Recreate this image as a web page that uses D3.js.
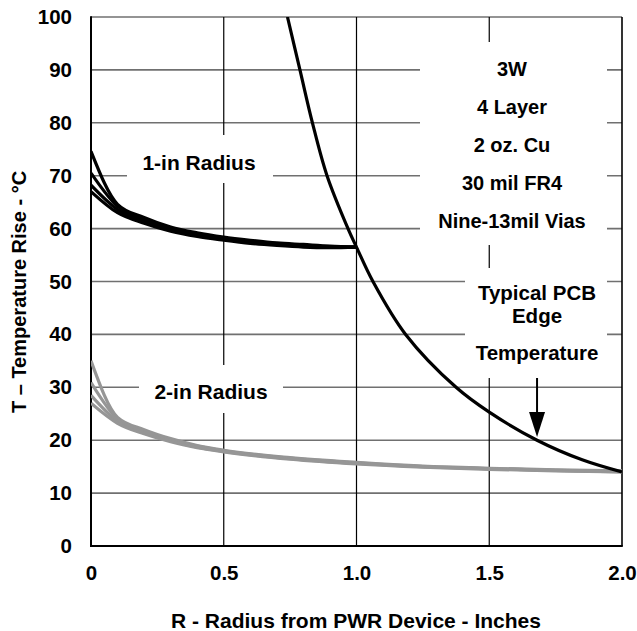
<!DOCTYPE html>
<html>
<head>
<meta charset="utf-8">
<script src="https://cdn.jsdelivr.net/npm/d3@7"></script>
<style>
html,body{margin:0;padding:0;background:#fff;}
svg{display:block;}
text{font-family:"Liberation Sans",Arial,sans-serif;font-weight:bold;fill:#000;}
</style>
</head>
<body>
<svg id="chart" width="637" height="631"></svg>
<script>
// ---- data ----
const xTicks = [0, 0.5, 1.0, 1.5, 2.0];
const xTickLabels = ["0", "0.5", "1.0", "1.5", "2.0"];
const yTicks = [0, 10, 20, 30, 40, 50, 60, 70, 80, 90, 100];
const yTickLabels = ["0", "10", "20", "30", "40", "50", "60", "70", "80", "90", "100"];

// 1-in radius curves (black)
const r1X = [0, 0.1, 0.2, 0.3, 0.4, 0.5, 0.6, 0.7, 0.8, 0.9, 1.0];
const r1A = [74.6, 64.6, 62.1, 60.3, 59.2, 58.4, 57.8, 57.3, 57.0, 56.7, 56.5];
const r1B = [70.5, 64.2, 61.8, 60.0, 59.0, 58.2, 57.6, 57.1, 56.8, 56.6, 56.5];
const r1C = [68.2, 63.6, 61.4, 59.8, 58.8, 58.0, 57.4, 57.0, 56.7, 56.5, 56.5];
const r1D = [67.0, 63.0, 61.0, 59.5, 58.5, 57.8, 57.2, 56.8, 56.5, 56.4, 56.5];

// 2-in radius curves (gray)
const r2X = [0, 0.1, 0.2, 0.3, 0.4, 0.5, 0.75, 1.0, 1.25, 1.5, 1.75, 2.0];
const r2A = [35.0, 24.3, 22.0, 20.3, 19.0, 18.1, 16.7, 15.8, 15.1, 14.7, 14.4, 14.2];
const r2B = [30.9, 24.0, 21.8, 20.1, 18.9, 18.0, 16.6, 15.7, 15.0, 14.6, 14.3, 14.1];
const r2C = [28.5, 23.6, 21.5, 19.9, 18.7, 17.9, 16.5, 15.6, 15.0, 14.6, 14.3, 14.0];
const r2D = [27.0, 23.2, 21.2, 19.7, 18.6, 17.8, 16.4, 15.5, 14.9, 14.5, 14.2, 14.0];

// Typical PCB edge temperature curve
const edgeX = [0.74, 0.787, 0.834, 0.889, 0.968, 1.0, 1.062, 1.185, 1.375, 1.5, 1.68, 1.85, 2.0];
const edgeT = [100, 90, 80, 70, 60, 56.5, 50, 40, 30, 25.3, 20, 16.3, 14];

const infoLines = ["3W", "4 Layer", "2 oz. Cu", "30 mil FR4", "Nine-13mil Vias"];
const edgeLines = ["Typical PCB", "Edge", "Temperature"];
const arrowX = 1.68;

// ---- drawing ----
const svg = d3.select("#chart");
const x = d3.scaleLinear().domain([0, 2]).range([91, 622]);
const y = d3.scaleLinear().domain([0, 100]).range([546, 17]);

// grid
const g = svg.append("g");
g.selectAll("line.h").data(yTicks.filter(d => d > 0)).enter().append("line")
  .attr("x1", x(0)).attr("x2", x(2)).attr("y1", d => y(d)).attr("y2", d => y(d))
  .attr("stroke", "#707070").attr("stroke-width", 1.6);
g.selectAll("line.v").data(xTicks.filter(d => d > 0 && d < 2)).enter().append("line")
  .attr("x1", d => x(d)).attr("x2", d => x(d)).attr("y1", y(0)).attr("y2", y(100))
  .attr("stroke", "#000").attr("stroke-width", 1.2);

// white label boxes (they interrupt the grid)
const boxes = [
  [127, 135, 146, 48],
  [139, 365, 144, 48],
  [420, 42, 187, 203],
  [465, 268, 142, 110]
];
svg.append("g").selectAll("rect").data(boxes).enter().append("rect")
  .attr("x", d => d[0]).attr("y", d => d[1]).attr("width", d => d[2]).attr("height", d => d[3])
  .attr("fill", "#fff");

// frame
svg.append("line").attr("x1", x(2)).attr("x2", x(2)).attr("y1", y(0)).attr("y2", y(100))
  .attr("stroke", "#000").attr("stroke-width", 1.6);
svg.append("line").attr("x1", x(0)).attr("x2", x(0)).attr("y1", y(0) + 1).attr("y2", y(100) - 0.8)
  .attr("stroke", "#000").attr("stroke-width", 2);
svg.append("line").attr("x1", x(0) - 1).attr("x2", x(2) + 0.8).attr("y1", y(0)).attr("y2", y(0))
  .attr("stroke", "#000").attr("stroke-width", 2);

// axes (labels only)
const ax = svg.append("g").attr("transform", `translate(0,${y(0)})`)
  .call(d3.axisBottom(x).tickValues(xTicks).tickSize(0).tickPadding(19)
    .tickFormat((d, i) => xTickLabels[i]));
ax.select(".domain").remove();
ax.selectAll("text").attr("font-size", 20.5).attr("font-family", "Liberation Sans, Arial, sans-serif").attr("font-weight", "bold").attr("fill", "#000");

const ay = svg.append("g").attr("transform", `translate(${x(0)},0)`)
  .call(d3.axisLeft(y).tickValues(yTicks).tickSize(0).tickPadding(19)
    .tickFormat((d, i) => yTickLabels[i]));
ay.select(".domain").remove();
ay.selectAll("text").attr("font-size", 20.5).attr("font-family", "Liberation Sans, Arial, sans-serif").attr("font-weight", "bold").attr("fill", "#000");

// clip for curves
svg.append("clipPath").attr("id", "clip").append("rect")
  .attr("x", x(0)).attr("y", y(100)).attr("width", x(2) - x(0)).attr("height", y(0) - y(100));

const line = d3.line().x(d => x(d[0])).y(d => y(d[1])).curve(d3.curveMonotoneX);
const smooth = d3.line().x(d => x(d[0])).y(d => y(d[1])).curve(d3.curveCatmullRom.alpha(0.5));
const curves = svg.append("g").attr("clip-path", "url(#clip)");

[r2A, r2B, r2C, r2D].forEach(s => {
  curves.append("path").datum(r2X.map((v, i) => [v, s[i]]))
    .attr("d", line).attr("fill", "none").attr("stroke", "#969696").attr("stroke-width", 3.2)
    .attr("stroke-linejoin", "round");
});
[r1A, r1B, r1C, r1D].forEach(s => {
  curves.append("path").datum(r1X.map((v, i) => [v, s[i]]))
    .attr("d", line).attr("fill", "none").attr("stroke", "#000").attr("stroke-width", 3.2)
    .attr("stroke-linejoin", "round");
});
curves.append("path").datum(edgeX.map((v, i) => [v, edgeT[i]]))
  .attr("d", smooth).attr("fill", "none").attr("stroke", "#000").attr("stroke-width", 3.2);

// arrow
const ax0 = x(arrowX);
svg.append("line").attr("x1", ax0).attr("x2", ax0).attr("y1", 378).attr("y2", 414)
  .attr("stroke", "#000").attr("stroke-width", 2);
svg.append("path").attr("d", `M${ax0 - 8},412 L${ax0 + 8},412 L${ax0},437 Z`).attr("fill", "#000");

// annotation texts
function label(txt, cx, cy, size) {
  svg.append("text").attr("x", cx).attr("y", cy).attr("text-anchor", "middle")
    .attr("dominant-baseline", "central").attr("font-size", size).text(txt);
}
label("1-in Radius", 199, 162, 21);
label("2-in Radius", 211, 391, 21);
const infoY = [69, 107, 145, 183, 221];
infoLines.forEach((t, i) => label(t, 512, infoY[i], 20));
const edgeY = [292, 315, 352];
edgeLines.forEach((t, i) => label(t, 537, edgeY[i], 20.5));

// axis titles
svg.append("text").attr("x", 356).attr("y", 620).attr("text-anchor", "middle")
  .attr("dominant-baseline", "central").attr("font-size", 21).text("R - Radius from PWR Device - Inches");
svg.append("text").attr("transform", "translate(19,292) rotate(-90)").attr("text-anchor", "middle")
  .attr("dominant-baseline", "central").attr("font-size", 20).text("T – Temperature Rise - °C");
</script>
</body>
</html>
